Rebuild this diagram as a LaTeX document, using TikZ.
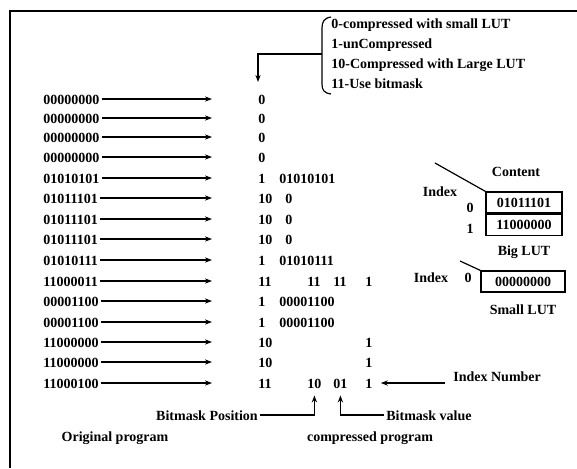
\documentclass[tikz,border=0pt]{standalone}
\usepackage{fontspec}
\setmainfont{Liberation Serif}
\usetikzlibrary{arrows.meta,positioning}

\begin{document}
\begin{tikzpicture}[x=0.5pt,y=-0.5pt,>={Stealth[length=3.5pt,width=2.6pt]},
  every node/.style={font=\fontsize{7}{8}\selectfont\bfseries,inner sep=1pt,text height=5pt,text depth=0pt},
  row/.style={anchor=west},
  lut/.style={draw,line width=0.6pt,minimum width=38pt,minimum height=10.5pt}]
\useasboundingbox (0,0) rectangle (577,468);
\draw[line width=1.2pt] (10,468) -- (10,11) -- (577,11);

% legend of the codes
\node[row] (leg0) at (329,23) {0-compressed with small LUT};
\node[row] (leg1) at (329,43) {1-unCompressed};
\node[row] (leg2) at (329,63) {10-Compressed with Large LUT};
\node[row] (leg3) at (329,83) {11-Use bitmask};
\draw[line width=0.6pt] (331,17) .. controls (324,18) and (322,22) .. (322,28) -- (322,84) .. controls (322,90) and (324,93) .. (331,94);
\coordinate (legmid) at (322,54);
\coordinate (legtip) at (258,82);
\draw[->,line width=0.6pt] (legmid) -| (legtip);

% original program
\coordinate (tip) at (212,0);
\node[row] (o1) at (41,99) {00000000};
\node[row] (o2) at (41,118) {00000000};
\node[row] (o3) at (41,137) {00000000};
\node[row] (o4) at (41,157) {00000000};
\node[row] (o5) at (41,178) {01010101};
\node[row] (o6) at (41,198) {01011101};
\node[row] (o7) at (41,219) {01011101};
\node[row] (o8) at (41,239) {01011101};
\node[row] (o9) at (41,260) {01010111};
\node[row] (o10) at (41,281) {11000011};
\node[row] (o11) at (41,301) {00001100};
\node[row] (o12) at (41,322) {00001100};
\node[row] (o13) at (41,342) {11000000};
\node[row] (o14) at (41,362) {11000000};
\node[row] (o15) at (41,383) {11000100};
\draw[->,line width=0.6pt] (o1.east) -- (o1.east -| tip);
\draw[->,line width=0.6pt] (o2.east) -- (o2.east -| tip);
\draw[->,line width=0.6pt] (o3.east) -- (o3.east -| tip);
\draw[->,line width=0.6pt] (o4.east) -- (o4.east -| tip);
\draw[->,line width=0.6pt] (o5.east) -- (o5.east -| tip);
\draw[->,line width=0.6pt] (o6.east) -- (o6.east -| tip);
\draw[->,line width=0.6pt] (o7.east) -- (o7.east -| tip);
\draw[->,line width=0.6pt] (o8.east) -- (o8.east -| tip);
\draw[->,line width=0.6pt] (o9.east) -- (o9.east -| tip);
\draw[->,line width=0.6pt] (o10.east) -- (o10.east -| tip);
\draw[->,line width=0.6pt] (o11.east) -- (o11.east -| tip);
\draw[->,line width=0.6pt] (o12.east) -- (o12.east -| tip);
\draw[->,line width=0.6pt] (o13.east) -- (o13.east -| tip);
\draw[->,line width=0.6pt] (o14.east) -- (o14.east -| tip);
\draw[->,line width=0.6pt] (o15.east) -- (o15.east -| tip);

% compressed program
\node[row] (c1) at (256,99) {0};
\node[row] (c2) at (256,118) {0};
\node[row] (c3) at (256,137) {0};
\node[row] (c4) at (256,157) {0};
\node[row] (c5) at (256,178) {1};
\node[row] (d5) at (277,178) {01010101};
\node[row] (c6) at (256,198) {10};
\node[row] (d6) at (283,198) {0};
\node[row] (c7) at (256,219) {10};
\node[row] (d7) at (283,219) {0};
\node[row] (c8) at (256,239) {10};
\node[row] (d8) at (283,239) {0};
\node[row] (c9) at (256,260) {1};
\node[row] (d9) at (277,260) {01010111};
\node[row] (c10) at (256,281) {11};
\node[row] (m10) at (305,281) {11};
\node[row] (v10) at (331,281) {11};
\node[row] (n10) at (363,281) {1};
\node[row] (c11) at (256,301) {1};
\node[row] (d11) at (277,301) {00001100};
\node[row] (c12) at (256,322) {1};
\node[row] (d12) at (277,322) {00001100};
\node[row] (c13) at (256,342) {10};
\node[row] (n13) at (363,342) {1};
\node[row] (c14) at (256,362) {10};
\node[row] (n14) at (363,362) {1};
\node[row] (c15) at (256,383) {11};
\node[row] (m15) at (305,383) {10};
\node[row] (v15) at (331,383) {01};
\node[row] (n15) at (363,383) {1};

% bitmask labels
\node[row] (inum) at (451,376) {Index Number};
\coordinate (inumline) at (445,383);
\draw[->,line width=0.6pt,shorten >=3pt] (inumline) -- (n15.east);
\node (bpos) at (207,415) {Bitmask Position};
\draw[->,line width=0.6pt,shorten >=2.5pt] (bpos.east) -| (m15.south);
\node[row] (bval) at (384,415) {Bitmask value};
\draw[->,line width=0.6pt,shorten >=2.5pt] (bval.west) -| (v15.south);
\node (origlbl) at (115,436) {Original program};
\node (complbl) at (370,436) {compressed program};

% look-up tables
\node (content) at (516,171) {Content};
\node (bigidx) at (440,191) {Index};
\node[lut] (b0) at (524,202.5) {01011101};
\node[lut,below=0pt of b0] (b1) {11000000};
\node (i0) at (470,207) {0};
\node (i1) at (470,228) {1};
\node[below=3.5pt of b1] (biglbl) {Big LUT};
\coordinate (bigtick) at (435,163);
\draw[line width=0.6pt] (bigtick) -- (b0.north west);
\node[lut,minimum width=42pt] (s0) at (523,281.5) {00000000};
\node (smallidx) at (431,277) {Index};
\node (si0) at (468,277) {0};
\coordinate (smalltick) at (460,261);
\draw[line width=0.6pt] (smalltick) -- (s0.north west);
\node[below=4.5pt of s0] (smalllbl) {Small LUT};
\end{tikzpicture}
\end{document}
